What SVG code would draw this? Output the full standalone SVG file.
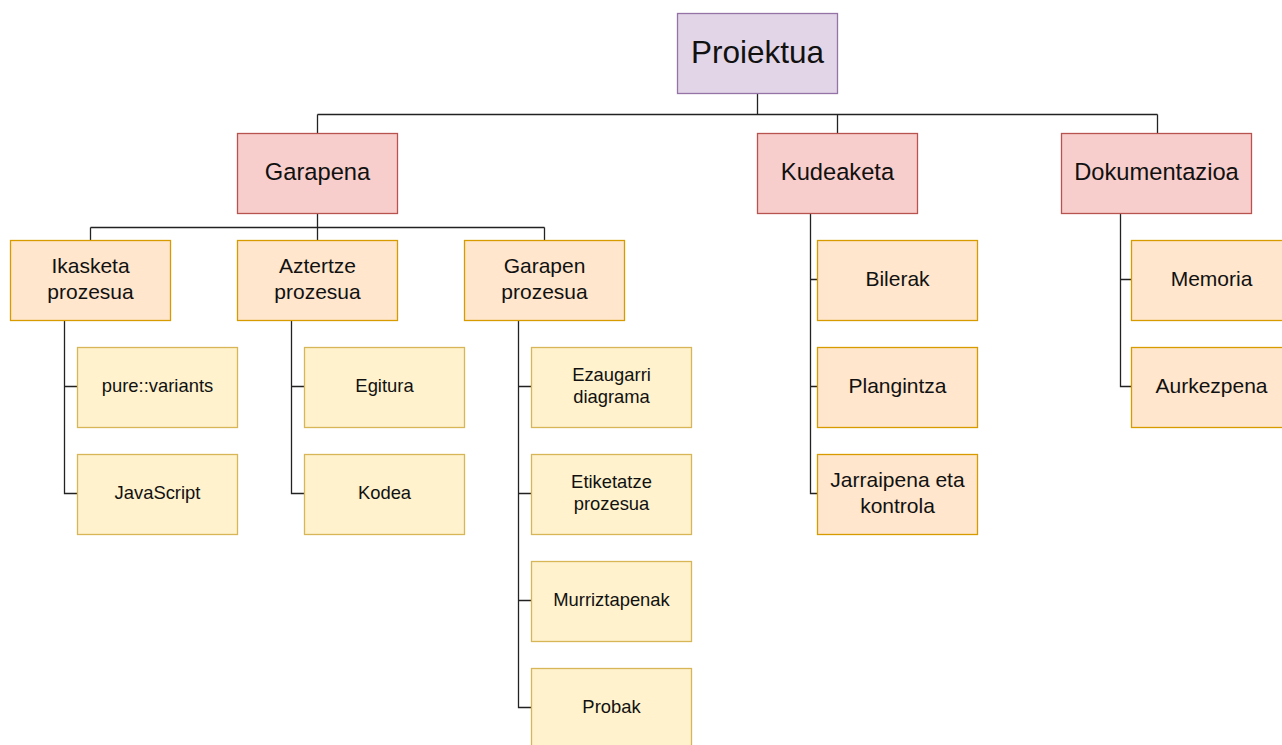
<svg xmlns="http://www.w3.org/2000/svg" width="1282" height="745" viewBox="0 0 1282 745">
<style>
text{font-family:"Liberation Sans",Arial,sans-serif;fill:#111;text-anchor:middle}
.p rect{fill:#e1d5e7;stroke:#9673a6;stroke-width:1.3}
.r rect{fill:#f8cecc;stroke:#b85450;stroke-width:1.3}
.o rect{fill:#ffe6cc;stroke:#d79b00;stroke-width:1.3}
.y rect{fill:#fff2cc;stroke:#d6b656;stroke-width:1.3}
.p text{font-size:31.5px}
.r text{font-size:23.7px}
.o text{font-size:21px}
.y text{font-size:18.4px}
#connectors path{fill:none;stroke:#222;stroke-width:1.3}
</style>
<rect width="1282" height="745" fill="#fff"/>
<g id="connectors">
<path d="M757.5 93.5V114.5M317.5 114.5H1157.5M317.5 114.5V133.5M837.5 114.5V133.5M1157.5 114.5V133.5"/>
<path d="M317.5 213.5V227.5M90.5 227.5H544.5M90.5 227.5V240.5M317.5 227.5V240.5M544.5 227.5V240.5"/>
<path d="M64.5 320.5V493.5H77.5M64.5 386.5H77.5"/>
<path d="M291.5 320.5V493.5H304.5M291.5 386.5H304.5"/>
<path d="M518.5 320.5V707.5H531.5M518.5 386.5H531.5M518.5 493.5H531.5M518.5 600.5H531.5"/>
<path d="M810.5 213.5V493.5H817.5M810.5 279.5H817.5M810.5 386.5H817.5"/>
<path d="M1120.5 213.5V386.5H1131.5M1120.5 279.5H1131.5"/>
</g>
<g id="proiektua" class="p"><rect x="677.5" y="13.5" width="160" height="80"/><text x="757.5" y="63">Proiektua</text></g>
<g id="garapena" class="r"><rect x="237.5" y="133.5" width="160" height="80"/><text x="317.5" y="179.5">Garapena</text></g>
<g id="kudeaketa" class="r"><rect x="757.5" y="133.5" width="160" height="80"/><text x="837.5" y="179.5">Kudeaketa</text></g>
<g id="dokumentazioa" class="r"><rect x="1061.5" y="133.5" width="190" height="80"/><text x="1156.5" y="179.5">Dokumentazioa</text></g>
<g id="ikasketa" class="o"><rect x="10.5" y="240.5" width="160" height="80"/><text x="90.5" y="272.5">Ikasketa</text><text x="90.5" y="298.5">prozesua</text></g>
<g id="aztertze" class="o"><rect x="237.5" y="240.5" width="160" height="80"/><text x="317.5" y="272.5">Aztertze</text><text x="317.5" y="298.5">prozesua</text></g>
<g id="garapen-prozesua" class="o"><rect x="464.5" y="240.5" width="160" height="80"/><text x="544.5" y="272.5">Garapen</text><text x="544.5" y="298.5">prozesua</text></g>
<g id="bilerak" class="o"><rect x="817.5" y="240.5" width="160" height="80"/><text x="897.5" y="285.5">Bilerak</text></g>
<g id="plangintza" class="o"><rect x="817.5" y="347.5" width="160" height="80"/><text x="897.5" y="392.5">Plangintza</text></g>
<g id="jarraipena" class="o"><rect x="817.5" y="454.5" width="160" height="80"/><text x="897.5" y="486.5">Jarraipena eta</text><text x="897.5" y="512.5">kontrola</text></g>
<g id="memoria" class="o"><rect x="1131.5" y="240.5" width="160" height="80"/><text x="1211.5" y="285.5">Memoria</text></g>
<g id="aurkezpena" class="o"><rect x="1131.5" y="347.5" width="160" height="80"/><text x="1211.5" y="392.5">Aurkezpena</text></g>
<g id="pure-variants" class="y"><rect x="77.5" y="347.5" width="160" height="80"/><text x="157.5" y="391.5">pure::variants</text></g>
<g id="javascript" class="y"><rect x="77.5" y="454.5" width="160" height="80"/><text x="157.5" y="498.5">JavaScript</text></g>
<g id="egitura" class="y"><rect x="304.5" y="347.5" width="160" height="80"/><text x="384.5" y="391.5">Egitura</text></g>
<g id="kodea" class="y"><rect x="304.5" y="454.5" width="160" height="80"/><text x="384.5" y="498.5">Kodea</text></g>
<g id="ezaugarri" class="y"><rect x="531.5" y="347.5" width="160" height="80"/><text x="611.5" y="380.5">Ezaugarri</text><text x="611.5" y="402.5">diagrama</text></g>
<g id="etiketatze" class="y"><rect x="531.5" y="454.5" width="160" height="80"/><text x="611.5" y="487.5">Etiketatze</text><text x="611.5" y="509.5">prozesua</text></g>
<g id="murriztapenak" class="y"><rect x="531.5" y="561.5" width="160" height="80"/><text x="611.5" y="605.5">Murriztapenak</text></g>
<g id="probak" class="y"><rect x="531.5" y="668.5" width="160" height="80"/><text x="611.5" y="712.5">Probak</text></g>
</svg>
